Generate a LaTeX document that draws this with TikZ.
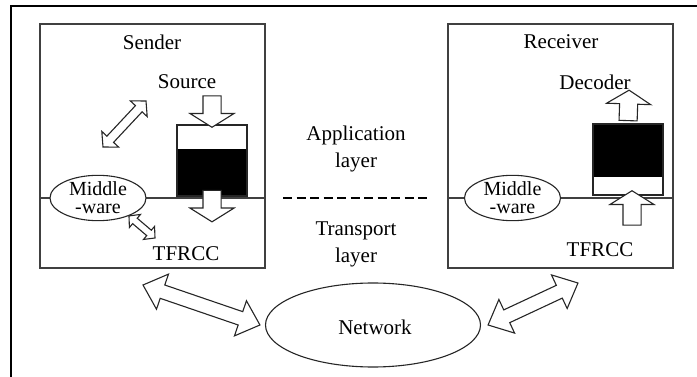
\documentclass[tikz,border=0pt]{standalone}
\usepackage{fontspec}
\setmainfont{Liberation Serif}
\usetikzlibrary{shapes.geometric,shapes.arrows,calc}

% fleche epaisse entre deux points
\newcommand\fatarrow[3][]{%
  \path let \p1=($(#3)-(#2)$), \n1={atan2(\y1,\x1)}, \n2={veclen(\x1,\y1)} in
    node[#1, rotate=\n1, minimum height=\n2] at ($(#2)!0.5!(#3)$) {};}

\begin{document}
\begin{tikzpicture}[x=1pt, y=-1pt,
  lbl/.style={inner sep=0pt, font=\fontsize{21}{27}\selectfont, align=center},
  hostbox/.style={draw=black!75, line width=1.3pt, minimum width=225pt, minimum height=244pt, inner sep=0pt},
  mware/.style={ellipse, draw=black!85, line width=1.1pt, fill=white, minimum width=96pt, minimum height=44pt, inner sep=0pt, font=\fontsize{20}{18}\selectfont, align=center},
  bufbox/.style={draw=black!85, line width=1.1pt, fill=white, minimum width=70pt, minimum height=71pt, inner sep=0pt},
  fat/.style={draw=black!85, line width=1.1pt, fill=white, inner xsep=0pt, minimum width=0pt},
  blockarrow/.style={fat, single arrow, inner ysep=8.5pt, single arrow head extend=13pt, single arrow tip angle=116},
  bigarrow/.style={fat, double arrow, inner ysep=6.5pt, double arrow head extend=11.5pt, double arrow tip angle=84},
  midarrow/.style={fat, double arrow, inner ysep=4pt, double arrow head extend=7pt, double arrow tip angle=95},
  tinyarrow/.style={fat, double arrow, inner ysep=3pt, double arrow head extend=5pt, double arrow tip angle=95}]
\useasboundingbox (0,0) rectangle (697,377);
% Cadre
\draw[line width=2.4pt] (11,395) -- (11,6) -- (715,6);
% Emetteur
\node[hostbox] (sender) at (152.5,146) {};
\draw[draw=black!75, line width=1.2pt] ($(sender.west)+(0,52)$) -- ($(sender.east)+(0,52)$);
\node[lbl] (sendlbl) at (152,42) {Sender};
\node[lbl] (src) at (187,82) {Source};
\node[lbl] (stfrcc) at (186,254) {TFRCC};
\node[mware] (smw) at (98,198) {Middle\\-ware};
% Tampon emetteur
\node[bufbox, path picture={\fill[black] ([yshift=-24pt]path picture bounding box.north west) rectangle (path picture bounding box.south east);}] (sbuf) at (212,160.5) {};
\coordinate (srcin) at (212,93);
\coordinate (sout) at (212,219);
\fatarrow[blockarrow]{srcin}{sbuf.north}
\fatarrow[blockarrow]{$(sbuf.south)+(0,-9)$}{sout}
\coordinate (mwa) at (103,147);
\coordinate (mwb) at (146,101);
\fatarrow[midarrow]{mwa}{mwb}
\coordinate (tfa) at (155,238);
\fatarrow[tinyarrow]{smw.-30}{tfa}
% Couches
\node[lbl] (applbl) at (356,149) {Application\\layer};
\draw[line width=1.2pt, dash pattern=on 9pt off 4.5pt] (283,198) -- (430,198);
\node[lbl] (trlbl) at (356,244) {Transport\\layer};
% Recepteur
\node[hostbox] (receiver) at (560.5,146) {};
\draw[draw=black!75, line width=1.2pt] ($(receiver.west)+(0,52)$) -- ($(receiver.east)+(0,52)$);
\node[lbl] (rcvlbl) at (561,42) {Receiver};
\node[lbl] (dec) at (595,82) {Decoder};
\node[lbl] (rtfrcc) at (600,250) {TFRCC};
\node[mware] (rmw) at (512.5,198) {Middle\\-ware};
% Tampon recepteur
\node[bufbox, path picture={\fill[black] (path picture bounding box.north west) rectangle ([yshift=18pt]path picture bounding box.south east);}] (rbuf) at (628,159.5) {};
\coordinate (decout) at (629,93);
\coordinate (rin) at (632,228);
\fatarrow[blockarrow]{rbuf.north}{decout}
\fatarrow[blockarrow]{rin}{$(rbuf.south)+(4,-2)$}
% Reseau
\node[ellipse, draw=black!85, line width=1.1pt, minimum width=215pt, minimum height=84pt, inner sep=0pt] (net) at (373,325) {};
\node[lbl] (netlbl) at (375,327) {Network};
\coordinate (sndlink) at (143,285);
\coordinate (rcvlink) at (578,283);
\fatarrow[bigarrow]{sndlink}{$(net.west)+(-5,0)$}
\fatarrow[bigarrow]{$(net.east)+(7,0)$}{rcvlink}
\end{tikzpicture}
\end{document}
